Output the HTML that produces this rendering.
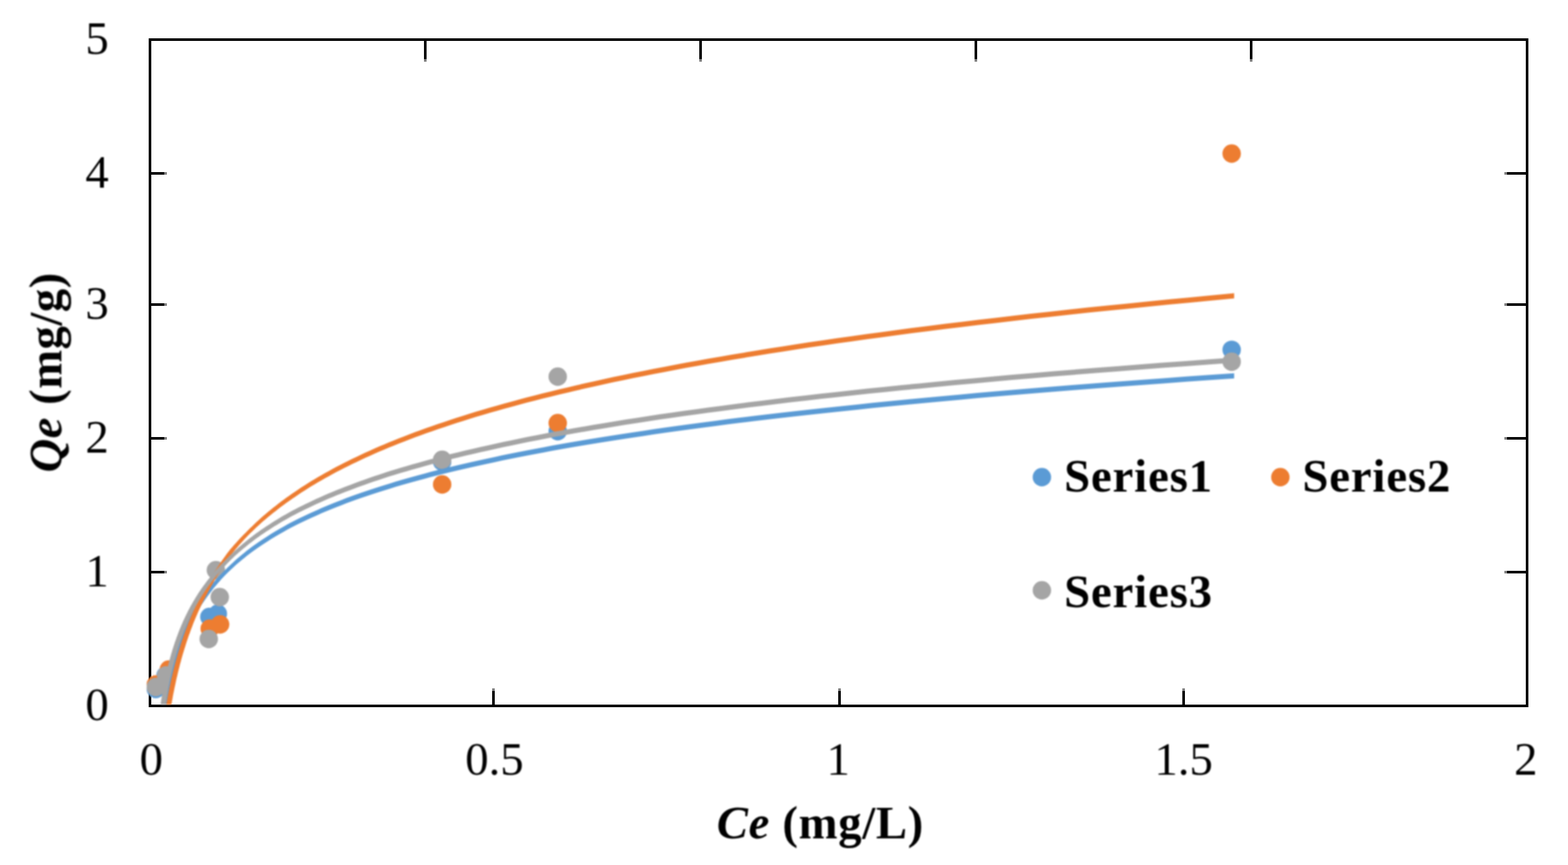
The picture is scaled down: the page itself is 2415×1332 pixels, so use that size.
<!DOCTYPE html>
<html lang="en"><head><meta charset="utf-8"><title>Chart</title>
<style>
html,body{margin:0;padding:0;background:#fff;}
body{width:2415px;height:1332px;overflow:hidden;}
svg{display:block;}
text{font-family:"Liberation Serif","DejaVu Serif",serif;font-size:72px;fill:#000;}
.b{font-weight:bold;}
.bi{font-weight:bold;font-style:italic;}
</style></head><body>
<svg width="2415" height="1332" viewBox="0 0 2415 1332">
<rect x="0" y="0" width="2415" height="1332" fill="#fff"/>
<g id="axes" shape-rendering="crispEdges">
<rect x="231" y="61" width="2121" height="1026" fill="none" stroke="#000" stroke-width="4"/>
<rect x="233" y="265" width="20" height="4" fill="#000"/><rect x="253" y="265" width="4" height="4" fill="#808080"/>
<rect x="2321" y="265" width="29" height="4" fill="#000"/><rect x="2317" y="265" width="4" height="4" fill="#808080"/>
<rect x="233" y="467" width="20" height="4" fill="#000"/><rect x="253" y="467" width="4" height="4" fill="#808080"/>
<rect x="2321" y="467" width="29" height="4" fill="#000"/><rect x="2317" y="467" width="4" height="4" fill="#808080"/>
<rect x="233" y="673" width="20" height="4" fill="#000"/><rect x="253" y="673" width="4" height="4" fill="#808080"/>
<rect x="2321" y="673" width="29" height="4" fill="#000"/><rect x="2317" y="673" width="4" height="4" fill="#808080"/>
<rect x="233" y="879" width="20" height="4" fill="#000"/><rect x="253" y="879" width="4" height="4" fill="#808080"/>
<rect x="2321" y="879" width="29" height="4" fill="#000"/><rect x="2317" y="879" width="4" height="4" fill="#808080"/>
<rect x="653" y="63" width="4" height="28" fill="#000"/><rect x="653" y="91" width="4" height="4" fill="#808080"/>
<rect x="1077" y="63" width="4" height="28" fill="#000"/><rect x="1077" y="91" width="4" height="4" fill="#808080"/>
<rect x="1501" y="63" width="4" height="28" fill="#000"/><rect x="1501" y="91" width="4" height="4" fill="#808080"/>
<rect x="1925" y="63" width="4" height="28" fill="#000"/><rect x="1925" y="91" width="4" height="4" fill="#808080"/>
<rect x="758" y="1064" width="4" height="21" fill="#000"/><rect x="758" y="1060" width="4" height="4" fill="#808080"/>
<rect x="1291" y="1064" width="4" height="21" fill="#000"/><rect x="1291" y="1060" width="4" height="4" fill="#808080"/>
<rect x="1821" y="1064" width="4" height="21" fill="#000"/><rect x="1821" y="1060" width="4" height="4" fill="#808080"/>
</g>
<defs><filter id="soft" filterUnits="userSpaceOnUse" x="0" y="0" width="2415" height="1332" color-interpolation-filters="sRGB">
<feGaussianBlur in="SourceGraphic" stdDeviation="1.1"/>
</filter></defs>
<g id="content" filter="url(#soft)">
<g id="points">
<circle cx="240.0" cy="1061.0" r="14.2" fill="#5b9bd5"/>
<circle cx="255.0" cy="1040.0" r="14.2" fill="#5b9bd5"/>
<circle cx="322.5" cy="950.0" r="14.2" fill="#5b9bd5"/>
<circle cx="335.5" cy="945.0" r="14.2" fill="#5b9bd5"/>
<circle cx="681.0" cy="711.0" r="14.2" fill="#5b9bd5"/>
<circle cx="859.0" cy="664.0" r="14.2" fill="#5b9bd5"/>
<circle cx="1897.0" cy="538.6" r="14.2" fill="#5b9bd5"/>
<circle cx="240.0" cy="1054.0" r="14.2" fill="#ed7d31"/>
<circle cx="260.0" cy="1031.0" r="14.2" fill="#ed7d31"/>
<circle cx="323.0" cy="968.0" r="14.2" fill="#ed7d31"/>
<circle cx="339.0" cy="961.5" r="14.2" fill="#ed7d31"/>
<circle cx="681.0" cy="746.0" r="14.2" fill="#ed7d31"/>
<circle cx="859.0" cy="651.5" r="14.2" fill="#ed7d31"/>
<circle cx="1897.0" cy="236.5" r="14.2" fill="#ed7d31"/>
<circle cx="240.0" cy="1058.0" r="14.2" fill="#a5a5a5"/>
<circle cx="256.0" cy="1040.0" r="14.2" fill="#a5a5a5"/>
<circle cx="321.5" cy="984.0" r="14.2" fill="#a5a5a5"/>
<circle cx="338.5" cy="919.5" r="14.2" fill="#a5a5a5"/>
<circle cx="332.5" cy="878.0" r="14.2" fill="#a5a5a5"/>
<circle cx="681.0" cy="708.0" r="14.2" fill="#a5a5a5"/>
<circle cx="859.0" cy="580.0" r="14.2" fill="#a5a5a5"/>
<circle cx="1897.0" cy="557.0" r="14.2" fill="#a5a5a5"/>
</g>
<g id="trend" stroke="none">
<path d="M256.5 1085.0 L256.9 1082.5 L257.4 1079.9 L257.8 1077.4 L258.3 1074.9 L258.7 1072.3 L259.2 1069.8 L259.7 1067.3 L260.2 1064.8 L260.7 1062.2 L261.2 1059.7 L261.7 1057.2 L262.3 1054.6 L262.8 1052.1 L263.4 1049.6 L264.0 1047.0 L264.5 1044.5 L265.1 1042.0 L265.8 1039.4 L266.4 1036.9 L267.0 1034.4 L267.7 1031.8 L268.4 1029.3 L269.1 1026.8 L269.8 1024.3 L270.5 1021.7 L271.2 1019.2 L272.0 1016.7 L272.8 1014.1 L273.6 1011.6 L274.4 1009.1 L275.2 1006.5 L276.0 1004.0 L276.9 1001.5 L277.8 998.9 L278.7 996.4 L279.6 993.9 L280.6 991.3 L281.6 988.8 L282.5 986.3 L283.6 983.8 L284.6 981.2 L285.7 978.7 L286.7 976.2 L287.8 973.6 L289.0 971.1 L290.1 968.6 L291.3 966.0 L292.5 963.5 L293.8 961.0 L295.1 958.4 L296.4 955.9 L297.7 953.4 L299.0 950.8 L300.4 948.3 L301.9 945.8 L303.3 943.3 L304.8 940.7 L306.3 938.2 L307.9 935.7 L309.5 933.1 L311.1 930.6 L312.8 928.1 L314.5 925.5 L316.2 923.0 L318.0 920.5 L319.8 917.9 L321.7 915.4 L323.6 912.9 L325.5 910.4 L327.5 907.8 L329.5 905.3 L331.6 902.8 L333.8 900.2 L335.9 897.7 L338.2 895.2 L340.4 892.6 L342.8 890.1 L345.1 887.6 L347.5 885.0 L350.0 882.5 L348.5 884.0 L351.0 881.4 L353.7 878.9 L356.3 876.4 L359.1 873.9 L361.9 871.3 L364.7 868.8 L367.7 866.3 L370.7 863.7 L373.7 861.2 L376.9 858.7 L380.1 856.1 L383.4 853.6 L386.7 851.1 L390.1 848.5 L393.7 846.0 L397.2 843.5 L400.9 840.9 L404.7 838.4 L408.5 835.9 L412.4 833.4 L416.5 830.8 L420.6 828.3 L424.8 825.8 L429.1 823.2 L433.5 820.7 L438.0 818.2 L442.6 815.6 L447.3 813.1 L452.2 810.6 L457.1 808.0 L462.2 805.5 L467.5 803.0 L472.8 800.4 L478.2 797.9 L483.8 795.4 L489.5 792.9 L495.3 790.3 L501.3 787.8 L507.4 785.3 L513.6 782.7 L520.0 780.2 L526.6 777.7 L533.2 775.1 L540.1 772.6 L547.0 770.1 L554.2 767.5 L561.5 765.0 L569.0 762.5 L576.6 760.0 L584.4 757.4 L592.4 754.9 L600.6 752.4 L609.0 749.8 L617.6 747.3 L626.4 744.8 L635.4 742.2 L644.6 739.7 L654.0 737.2 L663.6 734.6 L673.5 732.1 L683.6 729.6 L693.9 727.0 L704.4 724.5 L715.2 722.0 L726.2 719.5 L737.5 716.9 L749.0 714.4 L760.8 711.9 L772.8 709.3 L785.2 706.8 L797.8 704.3 L810.7 701.7 L823.9 699.2 L837.4 696.7 L851.2 694.1 L865.3 691.6 L879.7 689.1 L894.5 686.5 L909.6 684.0 L925.1 681.5 L940.9 679.0 L957.0 676.4 L973.6 673.9 L990.5 671.4 L1007.8 668.8 L1025.4 666.3 L1043.5 663.8 L1062.0 661.2 L1080.9 658.7 L1100.3 656.2 L1120.1 653.6 L1140.3 651.1 L1161.0 648.6 L1182.2 646.0 L1203.8 643.5 L1226.0 641.0 L1248.6 638.5 L1271.8 635.9 L1295.5 633.4 L1319.7 630.9 L1344.5 628.3 L1369.9 625.8 L1395.8 623.3 L1422.3 620.7 L1449.4 618.2 L1477.1 615.7 L1505.5 613.1 L1534.5 610.6 L1564.2 608.1 L1594.6 605.5 L1625.6 603.0 L1657.3 600.5 L1689.8 598.0 L1723.0 595.4 L1757.0 592.9 L1791.7 590.4 L1827.3 587.8 L1863.6 585.3 L1900.8 582.8 L1900.8 574.8 L1863.6 577.3 L1827.3 579.8 L1791.7 582.4 L1757.0 584.9 L1723.0 587.4 L1689.8 590.0 L1657.3 592.5 L1625.6 595.0 L1594.6 597.5 L1564.2 600.1 L1534.5 602.6 L1505.5 605.1 L1477.1 607.7 L1449.4 610.2 L1422.3 612.7 L1395.8 615.3 L1369.9 617.8 L1344.5 620.3 L1319.7 622.9 L1295.5 625.4 L1271.8 627.9 L1248.6 630.5 L1226.0 633.0 L1203.8 635.5 L1182.2 638.0 L1161.0 640.6 L1140.3 643.1 L1120.1 645.6 L1100.3 648.2 L1080.9 650.7 L1062.0 653.2 L1043.5 655.8 L1025.4 658.3 L1007.8 660.8 L990.5 663.4 L973.6 665.9 L957.0 668.4 L940.9 671.0 L925.1 673.5 L909.6 676.0 L894.5 678.5 L879.7 681.1 L865.3 683.6 L851.2 686.1 L837.4 688.7 L823.9 691.2 L810.7 693.7 L797.8 696.3 L785.2 698.8 L772.8 701.3 L760.8 703.9 L749.0 706.4 L737.5 708.9 L726.2 711.5 L715.2 714.0 L704.4 716.5 L693.9 719.0 L683.6 721.6 L673.5 724.1 L663.6 726.6 L654.0 729.2 L644.6 731.7 L635.4 734.2 L626.4 736.8 L617.6 739.3 L609.0 741.8 L600.6 744.4 L592.4 746.9 L584.4 749.4 L576.6 752.0 L569.0 754.5 L561.5 757.0 L554.2 759.5 L547.0 762.1 L540.1 764.6 L533.2 767.1 L526.6 769.7 L520.0 772.2 L513.6 774.7 L507.4 777.3 L501.3 779.8 L495.3 782.3 L489.5 784.9 L483.8 787.4 L478.2 789.9 L472.8 792.4 L467.5 795.0 L462.2 797.5 L457.1 800.0 L452.2 802.6 L447.3 805.1 L442.6 807.6 L438.0 810.2 L433.5 812.7 L429.1 815.2 L424.8 817.8 L420.6 820.3 L416.5 822.8 L412.4 825.4 L408.5 827.9 L404.7 830.4 L400.9 832.9 L397.2 835.5 L393.7 838.0 L390.1 840.5 L386.7 843.1 L383.4 845.6 L380.1 848.1 L376.9 850.7 L373.7 853.2 L370.7 855.7 L367.7 858.3 L364.7 860.8 L361.9 863.3 L359.1 865.9 L356.3 868.4 L353.7 870.9 L351.0 873.4 L348.5 876.0 L342.0 882.5 L339.5 885.0 L337.1 887.6 L334.8 890.1 L332.4 892.6 L330.2 895.2 L327.9 897.7 L325.8 900.2 L323.6 902.8 L321.5 905.3 L319.5 907.8 L317.5 910.4 L315.6 912.9 L313.7 915.4 L311.8 917.9 L310.0 920.5 L308.2 923.0 L306.5 925.5 L304.8 928.1 L303.1 930.6 L301.5 933.1 L299.9 935.7 L298.3 938.2 L296.8 940.7 L295.3 943.3 L293.9 945.8 L292.4 948.3 L291.0 950.8 L289.7 953.4 L288.4 955.9 L287.1 958.4 L285.8 961.0 L284.5 963.5 L283.3 966.0 L282.1 968.6 L281.0 971.1 L279.8 973.6 L278.7 976.2 L277.7 978.7 L276.6 981.2 L275.6 983.8 L274.5 986.3 L273.6 988.8 L272.6 991.3 L271.6 993.9 L270.7 996.4 L269.8 998.9 L268.9 1001.5 L268.0 1004.0 L267.2 1006.5 L266.4 1009.1 L265.6 1011.6 L264.8 1014.1 L264.0 1016.7 L263.2 1019.2 L262.5 1021.7 L261.8 1024.3 L261.1 1026.8 L260.4 1029.3 L259.7 1031.8 L259.0 1034.4 L258.4 1036.9 L257.8 1039.4 L257.1 1042.0 L256.5 1044.5 L256.0 1047.0 L255.4 1049.6 L254.8 1052.1 L254.3 1054.6 L253.7 1057.2 L253.2 1059.7 L252.7 1062.2 L252.2 1064.8 L251.7 1067.3 L251.2 1069.8 L250.7 1072.3 L250.3 1074.9 L249.8 1077.4 L249.4 1079.9 L248.9 1082.5 L248.5 1085.0 Z" fill="#5b9bd5"/>
<path d="M264.0 1085.0 L264.5 1081.9 L265.1 1078.7 L265.7 1075.6 L266.2 1072.4 L266.8 1069.3 L267.5 1066.1 L268.1 1063.0 L268.7 1059.8 L269.4 1056.7 L270.1 1053.5 L270.7 1050.4 L271.4 1047.2 L272.1 1044.1 L272.9 1040.9 L273.6 1037.8 L274.4 1034.6 L275.1 1031.5 L275.9 1028.4 L276.7 1025.2 L277.5 1022.1 L278.4 1018.9 L279.2 1015.8 L280.1 1012.6 L281.0 1009.5 L281.9 1006.3 L282.9 1003.2 L283.8 1000.0 L284.8 996.9 L285.8 993.7 L286.8 990.6 L287.8 987.4 L288.9 984.3 L289.9 981.2 L291.0 978.0 L292.2 974.9 L293.3 971.7 L294.5 968.6 L295.7 965.4 L296.9 962.3 L298.1 959.1 L299.4 956.0 L300.7 952.8 L302.0 949.7 L303.4 946.5 L304.7 943.4 L306.1 940.2 L307.6 937.1 L309.0 933.9 L310.5 930.8 L312.1 927.7 L313.6 924.5 L315.2 921.4 L316.9 918.2 L318.5 915.1 L320.2 911.9 L322.0 908.8 L323.7 905.6 L325.5 902.5 L327.4 899.3 L329.1 896.2 L330.9 893.0 L332.8 889.9 L334.6 886.7 L336.5 883.6 L338.5 880.5 L340.5 877.3 L342.5 874.2 L344.6 871.0 L346.7 867.9 L348.8 864.7 L351.1 861.6 L353.3 858.4 L355.6 855.3 L357.9 852.1 L360.3 849.0 L362.8 845.8 L365.5 842.7 L368.2 839.5 L371.0 836.4 L373.9 833.2 L376.8 830.1 L379.7 827.0 L382.8 823.8 L385.9 820.7 L385.0 821.5 L388.3 818.4 L391.6 815.2 L394.9 812.1 L398.3 808.9 L401.8 805.8 L405.4 802.6 L409.1 799.5 L412.8 796.3 L416.6 793.2 L420.5 790.0 L424.5 786.9 L428.5 783.7 L432.7 780.6 L436.9 777.5 L441.2 774.3 L445.6 771.2 L450.1 768.0 L454.7 764.9 L459.4 761.7 L464.1 758.6 L469.0 755.4 L474.0 752.3 L479.1 749.1 L484.3 746.0 L489.6 742.8 L495.0 739.7 L500.5 736.5 L506.2 733.4 L511.9 730.3 L517.8 727.1 L523.8 724.0 L530.0 720.8 L536.2 717.7 L542.6 714.5 L549.1 711.4 L555.8 708.2 L562.6 705.1 L569.6 701.9 L576.6 698.8 L583.9 695.6 L591.3 692.5 L598.8 689.3 L606.5 686.2 L614.4 683.0 L622.4 679.9 L630.6 676.8 L639.0 673.6 L647.5 670.5 L656.2 667.3 L665.1 664.2 L674.2 661.0 L683.5 657.9 L693.0 654.7 L702.7 651.6 L712.5 648.4 L722.6 645.3 L732.9 642.1 L743.4 639.0 L754.2 635.8 L765.1 632.7 L776.3 629.6 L787.7 626.4 L799.4 623.3 L811.3 620.1 L823.4 617.0 L835.8 613.8 L848.5 610.7 L861.4 607.5 L874.6 604.4 L888.1 601.2 L901.9 598.1 L915.9 594.9 L930.3 591.8 L944.9 588.6 L959.9 585.5 L975.1 582.3 L990.7 579.2 L1006.6 576.1 L1022.8 572.9 L1039.4 569.8 L1056.4 566.6 L1073.6 563.5 L1091.3 560.3 L1109.3 557.2 L1127.7 554.0 L1146.5 550.9 L1165.6 547.7 L1185.2 544.6 L1205.2 541.4 L1225.6 538.3 L1246.4 535.1 L1267.7 532.0 L1289.4 528.8 L1311.6 525.7 L1334.2 522.6 L1357.3 519.4 L1380.9 516.3 L1404.9 513.1 L1429.5 510.0 L1454.6 506.8 L1480.2 503.7 L1506.4 500.5 L1533.1 497.4 L1560.4 494.2 L1588.2 491.1 L1616.6 487.9 L1645.7 484.8 L1675.3 481.6 L1705.5 478.5 L1736.4 475.4 L1767.9 472.2 L1800.1 469.1 L1833.0 465.9 L1866.5 462.8 L1900.8 459.6 L1900.8 451.6 L1866.5 454.8 L1833.0 457.9 L1800.1 461.1 L1767.9 464.2 L1736.4 467.4 L1705.5 470.5 L1675.3 473.6 L1645.7 476.8 L1616.6 479.9 L1588.2 483.1 L1560.4 486.2 L1533.1 489.4 L1506.4 492.5 L1480.2 495.7 L1454.6 498.8 L1429.5 502.0 L1404.9 505.1 L1380.9 508.3 L1357.3 511.4 L1334.2 514.6 L1311.6 517.7 L1289.4 520.8 L1267.7 524.0 L1246.4 527.1 L1225.6 530.3 L1205.2 533.4 L1185.2 536.6 L1165.6 539.7 L1146.5 542.9 L1127.7 546.0 L1109.3 549.2 L1091.3 552.3 L1073.6 555.5 L1056.4 558.6 L1039.4 561.8 L1022.8 564.9 L1006.6 568.1 L990.7 571.2 L975.1 574.3 L959.9 577.5 L944.9 580.6 L930.3 583.8 L915.9 586.9 L901.9 590.1 L888.1 593.2 L874.6 596.4 L861.4 599.5 L848.5 602.7 L835.8 605.8 L823.4 609.0 L811.3 612.1 L799.4 615.3 L787.7 618.4 L776.3 621.6 L765.1 624.7 L754.2 627.8 L743.4 631.0 L732.9 634.1 L722.6 637.3 L712.5 640.4 L702.7 643.6 L693.0 646.7 L683.5 649.9 L674.2 653.0 L665.1 656.2 L656.2 659.3 L647.5 662.5 L639.0 665.6 L630.6 668.8 L622.4 671.9 L614.4 675.0 L606.5 678.2 L598.8 681.3 L591.3 684.5 L583.9 687.6 L576.6 690.8 L569.6 693.9 L562.6 697.1 L555.8 700.2 L549.1 703.4 L542.6 706.5 L536.2 709.7 L530.0 712.8 L523.8 716.0 L517.8 719.1 L511.9 722.3 L506.2 725.4 L500.5 728.5 L495.0 731.7 L489.6 734.8 L484.3 738.0 L479.1 741.1 L474.0 744.3 L469.0 747.4 L464.1 750.6 L459.4 753.7 L454.7 756.9 L450.1 760.0 L445.6 763.2 L441.2 766.3 L436.9 769.5 L432.7 772.6 L428.5 775.7 L424.5 778.9 L420.5 782.0 L416.6 785.2 L412.8 788.3 L409.1 791.5 L405.4 794.6 L401.8 797.8 L398.3 800.9 L394.9 804.1 L391.6 807.2 L388.3 810.4 L385.0 813.5 L377.9 820.7 L374.8 823.8 L371.7 827.0 L368.8 830.1 L365.9 833.2 L363.0 836.4 L360.2 839.5 L357.5 842.7 L354.8 845.8 L352.3 849.0 L349.9 852.1 L347.6 855.3 L345.3 858.4 L343.1 861.6 L340.8 864.7 L338.7 867.9 L336.6 871.0 L334.5 874.2 L332.5 877.3 L330.5 880.5 L328.5 883.6 L326.6 886.7 L324.8 889.9 L322.9 893.0 L321.1 896.2 L319.4 899.3 L317.5 902.5 L315.7 905.6 L314.0 908.8 L312.2 911.9 L310.5 915.1 L308.9 918.2 L307.2 921.4 L305.6 924.5 L304.1 927.7 L302.5 930.8 L301.0 933.9 L299.6 937.1 L298.1 940.2 L296.7 943.4 L295.4 946.5 L294.0 949.7 L292.7 952.8 L291.4 956.0 L290.1 959.1 L288.9 962.3 L287.7 965.4 L286.5 968.6 L285.3 971.7 L284.2 974.9 L283.0 978.0 L281.9 981.2 L280.9 984.3 L279.8 987.4 L278.8 990.6 L277.8 993.7 L276.8 996.9 L275.8 1000.0 L274.9 1003.2 L273.9 1006.3 L273.0 1009.5 L272.1 1012.6 L271.2 1015.8 L270.4 1018.9 L269.5 1022.1 L268.7 1025.2 L267.9 1028.4 L267.1 1031.5 L266.4 1034.6 L265.6 1037.8 L264.9 1040.9 L264.1 1044.1 L263.4 1047.2 L262.7 1050.4 L262.1 1053.5 L261.4 1056.7 L260.7 1059.8 L260.1 1063.0 L259.5 1066.1 L258.8 1069.3 L258.2 1072.4 L257.7 1075.6 L257.1 1078.7 L256.5 1081.9 L256.0 1085.0 Z" fill="#ed7d31"/>
<path d="M255.2 1085.0 L255.6 1082.3 L256.0 1079.7 L256.4 1077.0 L256.9 1074.4 L257.3 1071.7 L257.7 1069.1 L258.2 1066.4 L258.7 1063.8 L259.1 1061.1 L259.6 1058.5 L260.1 1055.8 L260.7 1053.2 L261.2 1050.5 L261.7 1047.9 L262.3 1045.2 L262.8 1042.6 L263.4 1039.9 L264.0 1037.3 L264.6 1034.6 L265.2 1032.0 L265.8 1029.3 L266.5 1026.7 L267.1 1024.0 L267.8 1021.4 L268.5 1018.7 L269.2 1016.0 L269.9 1013.4 L270.7 1010.7 L271.4 1008.1 L272.2 1005.4 L273.0 1002.8 L273.8 1000.1 L274.6 997.5 L275.5 994.8 L276.3 992.2 L277.2 989.5 L278.1 986.9 L279.1 984.2 L280.0 981.6 L281.0 978.9 L282.0 976.3 L283.0 973.6 L284.0 971.0 L285.1 968.3 L286.2 965.7 L287.3 963.0 L288.4 960.4 L289.6 957.7 L290.8 955.1 L292.0 952.4 L293.3 949.8 L294.6 947.1 L295.9 944.4 L297.2 941.8 L298.6 939.1 L300.0 936.5 L301.4 933.8 L302.9 931.2 L304.4 928.5 L305.9 925.9 L307.5 923.2 L309.1 920.6 L310.7 917.9 L312.4 915.3 L314.1 912.6 L315.9 910.0 L317.7 907.3 L319.5 904.7 L321.4 902.0 L323.4 899.4 L325.3 896.7 L327.4 894.1 L329.4 891.4 L331.5 888.8 L333.7 886.1 L335.9 883.5 L338.2 880.8 L340.5 878.1 L342.9 875.5 L345.3 872.8 L347.7 870.2 L350.2 867.5 L352.7 864.9 L355.4 862.2 L354.0 863.6 L356.8 860.9 L359.6 858.3 L362.4 855.6 L365.3 853.0 L368.3 850.3 L371.4 847.7 L374.5 845.0 L377.7 842.4 L381.0 839.7 L384.4 837.1 L387.8 834.4 L391.3 831.8 L394.9 829.1 L398.6 826.5 L402.3 823.8 L406.2 821.2 L410.1 818.5 L414.2 815.9 L418.3 813.2 L422.5 810.5 L426.8 807.9 L431.2 805.2 L435.7 802.6 L440.4 799.9 L445.1 797.3 L450.0 794.6 L455.0 792.0 L460.1 789.3 L465.4 786.7 L470.8 784.0 L476.3 781.4 L481.9 778.7 L487.6 776.1 L493.5 773.4 L499.5 770.8 L505.7 768.1 L512.0 765.5 L518.4 762.8 L525.0 760.2 L531.8 757.5 L538.7 754.9 L545.8 752.2 L553.0 749.6 L560.4 746.9 L567.9 744.2 L575.7 741.6 L583.6 738.9 L591.7 736.3 L600.0 733.6 L608.5 731.0 L617.3 728.3 L626.2 725.7 L635.3 723.0 L644.7 720.4 L654.3 717.7 L664.1 715.1 L674.1 712.4 L684.3 709.8 L694.8 707.1 L705.6 704.5 L716.5 701.8 L727.8 699.2 L739.3 696.5 L751.0 693.9 L763.1 691.2 L775.4 688.6 L788.0 685.9 L800.8 683.3 L814.0 680.6 L827.5 678.0 L841.3 675.3 L855.4 672.6 L869.9 670.0 L884.7 667.3 L899.8 664.7 L915.3 662.0 L931.1 659.4 L947.3 656.7 L963.9 654.1 L980.8 651.4 L998.2 648.8 L1015.9 646.1 L1034.1 643.5 L1052.7 640.8 L1071.7 638.2 L1091.1 635.5 L1111.0 632.9 L1131.4 630.2 L1152.2 627.6 L1173.6 624.9 L1195.4 622.3 L1217.7 619.6 L1240.5 617.0 L1263.9 614.3 L1287.8 611.7 L1312.2 609.0 L1337.2 606.3 L1362.8 603.7 L1389.0 601.0 L1415.8 598.4 L1443.2 595.7 L1471.3 593.1 L1500.0 590.4 L1529.3 587.8 L1559.4 585.1 L1590.1 582.5 L1621.5 579.8 L1653.7 577.2 L1686.6 574.5 L1720.3 571.9 L1754.8 569.2 L1790.0 566.6 L1826.1 563.9 L1863.0 561.3 L1900.8 558.6 L1900.8 550.6 L1863.0 553.3 L1826.1 555.9 L1790.0 558.6 L1754.8 561.2 L1720.3 563.9 L1686.6 566.5 L1653.7 569.2 L1621.5 571.8 L1590.1 574.5 L1559.4 577.1 L1529.3 579.8 L1500.0 582.4 L1471.3 585.1 L1443.2 587.7 L1415.8 590.4 L1389.0 593.0 L1362.8 595.7 L1337.2 598.3 L1312.2 601.0 L1287.8 603.7 L1263.9 606.3 L1240.5 609.0 L1217.7 611.6 L1195.4 614.3 L1173.6 616.9 L1152.2 619.6 L1131.4 622.2 L1111.0 624.9 L1091.1 627.5 L1071.7 630.2 L1052.7 632.8 L1034.1 635.5 L1015.9 638.1 L998.2 640.8 L980.8 643.4 L963.9 646.1 L947.3 648.7 L931.1 651.4 L915.3 654.0 L899.8 656.7 L884.7 659.3 L869.9 662.0 L855.4 664.6 L841.3 667.3 L827.5 670.0 L814.0 672.6 L800.8 675.3 L788.0 677.9 L775.4 680.6 L763.1 683.2 L751.0 685.9 L739.3 688.5 L727.8 691.2 L716.5 693.8 L705.6 696.5 L694.8 699.1 L684.3 701.8 L674.1 704.4 L664.1 707.1 L654.3 709.7 L644.7 712.4 L635.3 715.0 L626.2 717.7 L617.3 720.3 L608.5 723.0 L600.0 725.6 L591.7 728.3 L583.6 730.9 L575.7 733.6 L567.9 736.2 L560.4 738.9 L553.0 741.6 L545.8 744.2 L538.7 746.9 L531.8 749.5 L525.0 752.2 L518.4 754.8 L512.0 757.5 L505.7 760.1 L499.5 762.8 L493.5 765.4 L487.6 768.1 L481.9 770.7 L476.3 773.4 L470.8 776.0 L465.4 778.7 L460.1 781.3 L455.0 784.0 L450.0 786.6 L445.1 789.3 L440.4 791.9 L435.7 794.6 L431.2 797.2 L426.8 799.9 L422.5 802.5 L418.3 805.2 L414.2 807.9 L410.1 810.5 L406.2 813.2 L402.3 815.8 L398.6 818.5 L394.9 821.1 L391.3 823.8 L387.8 826.4 L384.4 829.1 L381.0 831.7 L377.7 834.4 L374.5 837.0 L371.4 839.7 L368.3 842.3 L365.3 845.0 L362.4 847.6 L359.6 850.3 L356.8 852.9 L354.0 855.6 L347.4 862.2 L344.7 864.9 L342.2 867.5 L339.7 870.2 L337.3 872.8 L334.9 875.5 L332.5 878.1 L330.2 880.8 L327.9 883.5 L325.7 886.1 L323.5 888.8 L321.4 891.4 L319.4 894.1 L317.3 896.7 L315.4 899.4 L313.4 902.0 L311.5 904.7 L309.7 907.3 L307.9 910.0 L306.1 912.6 L304.4 915.3 L302.7 917.9 L301.1 920.6 L299.5 923.2 L297.9 925.9 L296.4 928.5 L294.9 931.2 L293.4 933.8 L292.0 936.5 L290.6 939.1 L289.2 941.8 L287.9 944.4 L286.6 947.1 L285.3 949.8 L284.0 952.4 L282.8 955.1 L281.6 957.7 L280.4 960.4 L279.3 963.0 L278.2 965.7 L277.1 968.3 L276.0 971.0 L275.0 973.6 L274.0 976.3 L273.0 978.9 L272.0 981.6 L271.1 984.2 L270.1 986.9 L269.2 989.5 L268.3 992.2 L267.5 994.8 L266.6 997.5 L265.8 1000.1 L265.0 1002.8 L264.2 1005.4 L263.4 1008.1 L262.7 1010.7 L261.9 1013.4 L261.2 1016.0 L260.5 1018.7 L259.8 1021.4 L259.1 1024.0 L258.5 1026.7 L257.8 1029.3 L257.2 1032.0 L256.6 1034.6 L256.0 1037.3 L255.4 1039.9 L254.8 1042.6 L254.3 1045.2 L253.7 1047.9 L253.2 1050.5 L252.7 1053.2 L252.1 1055.8 L251.6 1058.5 L251.1 1061.1 L250.7 1063.8 L250.2 1066.4 L249.7 1069.1 L249.3 1071.7 L248.9 1074.4 L248.4 1077.0 L248.0 1079.7 L247.6 1082.3 L247.2 1085.0 Z" fill="#a5a5a5"/>
</g>
<g id="ylabels" class="tk" text-anchor="end">
<text x="167.5" y="82.5">5</text>
<text x="167.5" y="288.5">4</text>
<text x="167.5" y="490.5">3</text>
<text x="167.5" y="697">2</text>
<text x="167.5" y="903">1</text>
<text x="167.5" y="1109">0</text>
</g>
<g id="xlabels" class="tk" text-anchor="middle">
<text x="233" y="1192.5">0</text>
<text x="761.5" y="1192.5">0.5</text>
<text x="1291" y="1192.5">1</text>
<text x="1823" y="1192.5">1.5</text>
<text x="2350" y="1192.5">2</text>
</g>
<text class="b" x="1263.5" y="1291" text-anchor="middle" style="letter-spacing:1px"><tspan class="bi">Ce</tspan> (mg/L)</text>
<text class="b" transform="translate(94.5,573.5) rotate(-90)" text-anchor="middle" style="letter-spacing:0.7px"><tspan class="bi">Qe</tspan> (mg/g)</text>
<g id="legend">
<circle cx="1604.7" cy="734.8" r="14.2" fill="#5b9bd5"/><text class="b" x="1639" y="757" style="letter-spacing:1.3px">Series1</text>
<circle cx="1972" cy="734.8" r="14.2" fill="#ed7d31"/><text class="b" x="2006" y="757" style="letter-spacing:1.3px">Series2</text>
<circle cx="1604.7" cy="909" r="14.2" fill="#a5a5a5"/><text class="b" x="1639" y="935" style="letter-spacing:1.3px">Series3</text>
</g>
</g>
</svg></body></html>
